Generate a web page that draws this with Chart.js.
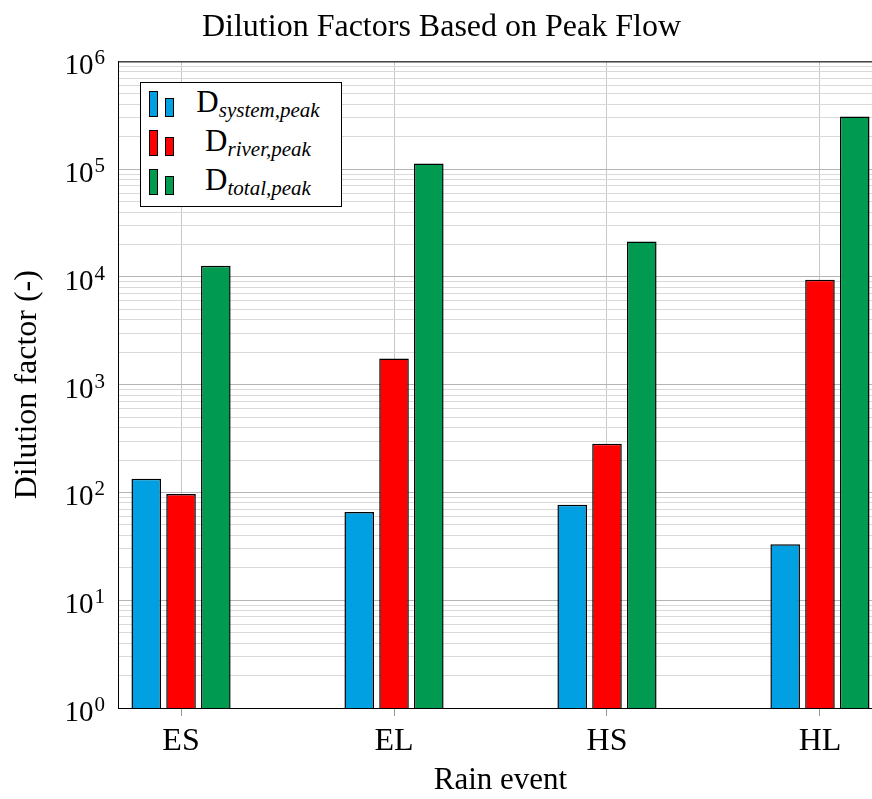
<!DOCTYPE html>
<html>
<head>
<meta charset="utf-8">
<script src="https://cdn.jsdelivr.net/npm/chart.js@4.4.0/dist/chart.umd.min.js"></script>
<style>
    body { margin: 0; overflow: hidden; background: #fff; }
    #wrap { position: relative; width: 900px; height: 799px; }
    #legend {
        position: absolute; left: 140px; top: 82px; width: 200px; height: 123px;
        border: 1px solid #000; background: #fff;
        font-family: 'Liberation Serif', serif; font-size: 31px; color: #000;
    }
    #legend .row { position: absolute; left: 0; width: 200px; height: 38px; }
    #legend .icon { position: absolute; left: 8px; bottom: 6px; width: 30px; height: 26px; }
    #legend .icon span { position: absolute; bottom: 0; width: 7px; border: 1px solid #000; }
    #legend .txt { position: absolute; left: 34px; right: 0; text-align: center; top: 0; line-height: 34px; white-space: nowrap; }
    #legend sub { font-style: italic; font-size: 21px; vertical-align: -5px; }
</style>
</head>
<body>
<div id="wrap">
    <canvas id="chart" width="900" height="799"></canvas>
    <div id="legend"></div>
</div>
<script>
const categories = ['ES', 'EL', 'HS', 'HL'];
const systemPeak = [134, 66, 77, 33];
const riverPeak = [97, 1750, 283, 9400];
const totalPeak = [12700, 113000, 21300, 308000];
const seriesSubs = ['system,peak', 'river,peak', 'total,peak'];
const seriesColors = ['#00a0e3', '#ff0000', '#009a50'];
const yTicks = [];
for (let e = 0; e < 6; e++) {
    for (let k = 1; k < 10; k++) yTicks.push(k * Math.pow(10, e));
}
yTicks.push(1e6);

const font = 'Liberation Serif';

function points(values) {
    return values.map((v, i) => ({ x: i, y: v }));
}

function isDecade(v) {
    const e = Math.log10(v);
    return Math.abs(e - Math.round(e)) < 1e-9;
}

// box round the plot and the 10^n labels with a raised exponent
const frame = {
    id: 'frame',
    afterDatasetsDraw(chart) {
        const a = chart.chartArea;
        const c = chart.ctx;
        c.save();
        c.strokeStyle = '#000';
        c.lineWidth = 1;
        c.strokeRect(a.left + 0.5, a.top + 0.5, a.right - a.left, a.bottom - a.top);
        const y = chart.scales.y;
        c.fillStyle = '#000';
        c.textAlign = 'right';
        c.textBaseline = 'alphabetic';
        y.ticks.forEach(t => {
            if (!isDecade(t.value)) return;
            const e = Math.round(Math.log10(t.value));
            const py = y.getPixelForValue(t.value);
            c.font = '21px ' + font;
            const ew = c.measureText(String(e)).width;
            c.fillText(String(e), a.left - 13, py + 3);
            c.font = '29px ' + font;
            c.fillText('10', a.left - 14 - ew, py + 13);
        });
        c.restore();
    }
};

const chart = new Chart(document.getElementById('chart').getContext('2d'), {
    type: 'bar',
    data: {
        datasets: [systemPeak, riverPeak, totalPeak].map((vals, i) => ({
            label: 'D ' + seriesSubs[i],
            data: points(vals),
            backgroundColor: seriesColors[i],
            borderColor: '#000',
            borderWidth: 1.5,
            categoryPercentage: 0.49,
            barPercentage: 0.85
        }))
    },
    options: {
        responsive: false,
        animation: false,
        layout: { padding: { right: 17 } },
        plugins: {
            legend: { display: false },
            tooltip: { enabled: false },
            title: {
                display: true,
                text: 'Dilution Factors Based on Peak Flow',
                color: '#000',
                font: { family: font, size: 32, weight: 'normal' },
                padding: { top: 8, bottom: 15 }
            }
        },
        scales: {
            x: {
                type: 'linear',
                offset: false,
                min: -0.296,
                max: 3.296,
                afterBuildTicks(scale) {
                    scale.ticks = categories.map((c, i) => ({ value: i }));
                },
                afterFit(scale) { scale.height = 91; },
                ticks: {
                    autoSkip: false,
                    color: '#000',
                    padding: 6,
                    font: { family: font, size: 32 },
                    callback: v => categories[v]
                },
                grid: { offset: false, color: '#c8c8c8', tickLength: 8, tickColor: '#999' },
                border: { color: '#000' },
                title: {
                    display: true,
                    text: 'Rain event',
                    color: '#000',
                    font: { family: font, size: 31 },
                    padding: { top: 0, bottom: 0 }
                }
            },
            y: {
                type: 'logarithmic',
                min: 1,
                max: 1e6,
                afterBuildTicks(scale) {
                    scale.ticks = yTicks.map(v => ({ value: v }));
                },
                afterFit(scale) { scale.width = 118; },
                ticks: {
                    autoSkip: false,
                    color: '#000',
                    font: { family: font, size: 30 },
                    callback: () => ''
                },
                grid: {
                    drawTicks: false,
                    color: ctx => isDecade(ctx.tick.value) ? '#b4b4b4' : '#d9d9d9'
                },
                border: { color: '#000' },
                title: {
                    display: true,
                    text: 'Dilution factor (-)',
                    color: '#000',
                    font: { family: font, size: 32 },
                    padding: { top: 8, bottom: 0 }
                }
            }
        }
    },
    plugins: [frame]
});

// legend built from the datasets (subscript labels)
const legend = document.getElementById('legend');
chart.data.datasets.forEach((ds, i) => {
    const row = document.createElement('div');
    row.className = 'row';
    row.style.top = (2 + i * 39) + 'px';
    row.innerHTML = '<div class="icon"><span style="left:0;height:24px;background:' + ds.backgroundColor +
        '"></span><span style="left:16px;height:17px;background:' + ds.backgroundColor + '"></span></div>' +
        '<div class="txt">D<sub>' + seriesSubs[i] + '</sub></div>';
    legend.appendChild(row);
});
</script>
</body>
</html>
